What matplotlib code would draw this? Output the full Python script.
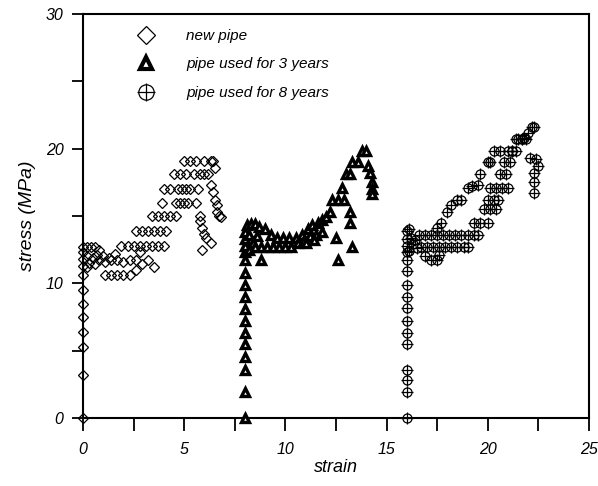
import matplotlib as mpl
import matplotlib.pyplot as plt
from matplotlib.legend_handler import HandlerTuple

mpl.use("Agg")

# new pipe
new_strain = [0, 0, 0, 0, 0, 0, 0, 0, 0, 0, 0, 0,
              0.2, 0.4, 0.6, 0.8, 0.2, 0.3, 0.5, 0.2, 0.7, 1.0, 0.6,
              0.8, 1.1, 1.4, 1.7, 2.0, 2.3, 2.6,
              1.1, 1.4, 1.7, 2.0, 2.3, 2.6, 2.9, 3.2, 3.5, 2.8, 1.6, 1.3,
              1.9, 2.2, 2.5, 2.8, 3.1, 3.4, 3.7, 4.0,
              2.6, 2.9, 3.2, 3.5, 3.8, 4.1,
              3.4, 3.7, 4.0, 4.3, 4.6, 5.8,
              3.9, 4.6, 4.8, 5.0, 5.2, 5.6,
              4.0, 4.3, 4.7, 4.9, 5.1, 5.3, 5.7,
              4.5, 4.8, 5.1, 5.5, 5.8, 6.0, 6.2,
              5.0, 5.3, 5.6, 6.0, 6.3,
              6.4, 6.5, 6.3, 6.4, 6.5, 6.6, 6.6, 6.7, 6.8,
              5.8, 5.9, 6.0, 6.1, 6.3, 5.9]
new_stress = [0, 3.2, 5.3, 6.4, 7.5, 8.5, 9.5, 10.6, 11.3, 11.8, 12.3, 12.7,
              12.7, 12.7, 12.7, 12.5, 12.0, 11.5, 11.9, 11.2, 12.1, 12.0, 11.4,
              11.7, 11.6, 11.7, 11.7, 11.6, 11.7, 11.7,
              10.6, 10.6, 10.6, 10.6, 10.6, 11.0, 11.4, 11.7, 11.2, 12.3, 12.2, 11.9,
              12.8, 12.8, 12.8, 12.8, 12.8, 12.8, 12.8, 12.8,
              13.9, 13.9, 13.9, 13.9, 13.9, 13.9,
              15.0, 15.0, 15.0, 15.0, 15.0, 15.0,
              16.0, 16.0, 16.0, 16.0, 16.0, 16.0,
              17.0, 17.0, 17.0, 17.0, 17.0, 17.0, 17.0,
              18.1, 18.1, 18.1, 18.1, 18.1, 18.1, 18.1,
              19.1, 19.1, 19.1, 19.1, 19.1,
              19.1, 18.6, 17.3, 16.8, 16.2, 15.8, 15.3, 15.0, 14.9,
              14.6, 14.1, 13.7, 13.4, 13.0, 12.5]

# pipe used for 3 years
y3_strain = [8.0, 8.0, 8.0, 8.0, 8.0, 8.0, 8.0, 8.0, 8.0, 8.0, 8.0, 8.0, 8.0, 8.0, 8.0, 8.0,
             8.1, 8.3, 8.5, 8.2, 8.4, 8.2, 8.6,
             8.7, 9.0, 9.3, 9.6, 9.9, 10.2, 10.5, 10.8, 11.1, 11.3, 11.6, 11.8, 12.0,
             12.2, 12.3, 12.6, 12.9, 12.8, 13.0, 13.2, 13.3, 13.6, 13.8, 14.0,
             8.5, 8.8, 9.1, 9.4, 9.7, 10.0, 10.3, 10.6, 10.9, 11.2, 11.5, 11.8, 11.0, 11.4,
             14.1, 14.2, 14.3, 14.3, 14.3,
             8.8, 12.5, 12.6, 13.2, 13.2, 13.3]
y3_stress = [0, 1.9, 3.6, 4.5, 5.5, 6.3, 7.2, 8.1, 9.0, 9.9, 10.8, 11.7, 12.3, 12.8, 13.3, 13.8,
             14.3, 14.4, 14.4, 13.6, 13.0, 12.5, 13.5,
             14.2, 14.0, 13.6, 13.4, 13.4, 13.4, 13.4, 13.6, 14.0, 14.3, 14.5, 14.7, 14.9,
             15.3, 16.2, 16.2, 16.2, 17.1, 18.1, 18.1, 19.0, 19.0, 19.8, 19.8,
             12.7, 12.7, 12.7, 12.7, 12.7, 12.7, 12.7, 13.0, 13.2, 13.5, 13.6, 13.8, 13.0, 13.2,
             18.7, 18.2, 17.5, 17.0, 16.6,
             11.7, 13.4, 11.7, 15.3, 14.5, 12.7]

# pipe used for 8 years
y8_strain = [16.0, 16.0, 16.0, 16.0, 16.0, 16.0, 16.0, 16.0, 16.0, 16.0, 16.0, 16.0, 16.0, 16.0, 16.0, 16.0,
             16.1, 16.2, 16.3, 16.1, 16.4, 16.5,
             16.6, 16.9, 17.2, 17.5, 17.8, 18.1, 18.4, 18.7, 19.0, 19.3, 19.5,
             16.7, 17.0, 17.3, 17.6, 17.9, 18.2, 18.5, 18.8, 19.0,
             16.9, 17.2, 17.5, 17.6,
             17.5, 17.7, 18.0, 18.2, 18.5, 18.7, 19.0, 19.2, 19.5, 19.6, 20.0,
             20.1, 20.3, 20.6, 21.0, 21.2, 21.4, 21.7, 21.8, 22.0, 22.2, 22.3,
             19.3, 19.6, 20.0, 19.8, 20.1, 20.4, 20.0, 20.3, 20.5, 20.1, 20.4,
             20.7, 21.0, 20.6, 20.9, 20.8, 21.1, 21.2, 21.4, 21.5, 21.7, 21.9,
             22.1, 22.4, 22.5, 22.3, 22.3, 22.3]
y8_stress = [0, 1.9, 2.8, 3.6, 5.5, 6.3, 7.2, 8.2, 9.0, 9.9, 10.9, 11.7, 12.3, 12.8, 13.3, 13.9,
             14.0, 13.4, 12.9, 12.4, 13.2, 12.6,
             13.6, 13.6, 13.6, 13.6, 13.6, 13.6, 13.6, 13.6, 13.6, 13.6, 13.6,
             12.7, 12.7, 12.7, 12.7, 12.7, 12.7, 12.7, 12.7, 12.7,
             12.0, 11.7, 11.7, 12.1,
             14.1, 14.5, 15.3, 15.8, 16.2, 16.2, 17.1, 17.2, 17.3, 18.1, 19.0,
             19.0, 19.8, 19.8, 19.8, 19.8, 20.7, 20.7, 20.8, 21.2, 21.6, 21.6,
             14.5, 14.5, 14.5, 15.5, 15.5, 15.5, 16.2, 16.2, 16.2, 17.1, 17.1,
             17.1, 17.1, 18.1, 18.1, 19.0, 19.0, 19.8, 19.8, 20.7, 20.7, 20.7,
             19.3, 19.2, 18.7, 18.2, 17.5, 16.7]

plt.rcParams["font.family"] = ["Liberation Sans", "DejaVu Sans"]
plt.rcParams["font.style"] = "italic"

fig = plt.figure(figsize=(5.98, 4.86), dpi=100)
ax = fig.add_axes([83 / 598, 68 / 486, 506 / 598, 404 / 486])

h_new, = ax.plot(new_strain, new_stress, "D", ms=5.5, mfc="none", mec="black", mew=0.9,
                 clip_on=False, zorder=3)
h_3, = ax.plot(y3_strain, y3_stress, "^", ms=6, mfc="white", mec="black", mew=2.4,
               clip_on=False, zorder=3)
h_8o, = ax.plot(y8_strain, y8_stress, "o", ms=6.5, mfc="none", mec="black", mew=0.9,
                clip_on=False, zorder=3)
h_8p, = ax.plot(y8_strain, y8_stress, "+", ms=8, mec="black", mew=0.9,
                clip_on=False, zorder=3)

ax.set_xlim(0, 25)
ax.set_ylim(0, 30)
ax.set_xticks([0, 5, 10, 15, 20, 25])
ax.set_xticks([2.5, 7.5, 12.5, 17.5, 22.5], minor=True)
ax.set_yticks([0, 10, 20, 30])
ax.set_yticks([5, 15, 25], minor=True)
ax.tick_params(which="both", direction="out", width=1.3, length=9, labelsize=11.5, pad=8,
               top=False, right=False)
ax.tick_params(axis="y", which="both", length=8, pad=6)
for s in ax.spines.values():
    s.set_linewidth(1.5)

ax.set_xlabel("strain", fontsize=13, labelpad=2)
ax.set_ylabel("stress (MPa)", fontsize=14, labelpad=7)

leg = ax.legend([h_new, h_3, (h_8o, h_8p)],
                ["new pipe", "pipe used for 3 years", "pipe used for 8 years"],
                handler_map={tuple: HandlerTuple(ndivide=1)},
                loc="upper left", bbox_to_anchor=(0.095, 0.963), frameon=False,
                borderaxespad=0, borderpad=0, handlelength=2, handletextpad=1.6,
                labelspacing=0.95, markerscale=1.7, prop={"size": 11, "style": "italic"})
leg.legend_handles[1].set_markersize(8)
leg.legend_handles[1].set_markeredgewidth(3.0)

plt.savefig("out.png", dpi=100)
plt.close()
